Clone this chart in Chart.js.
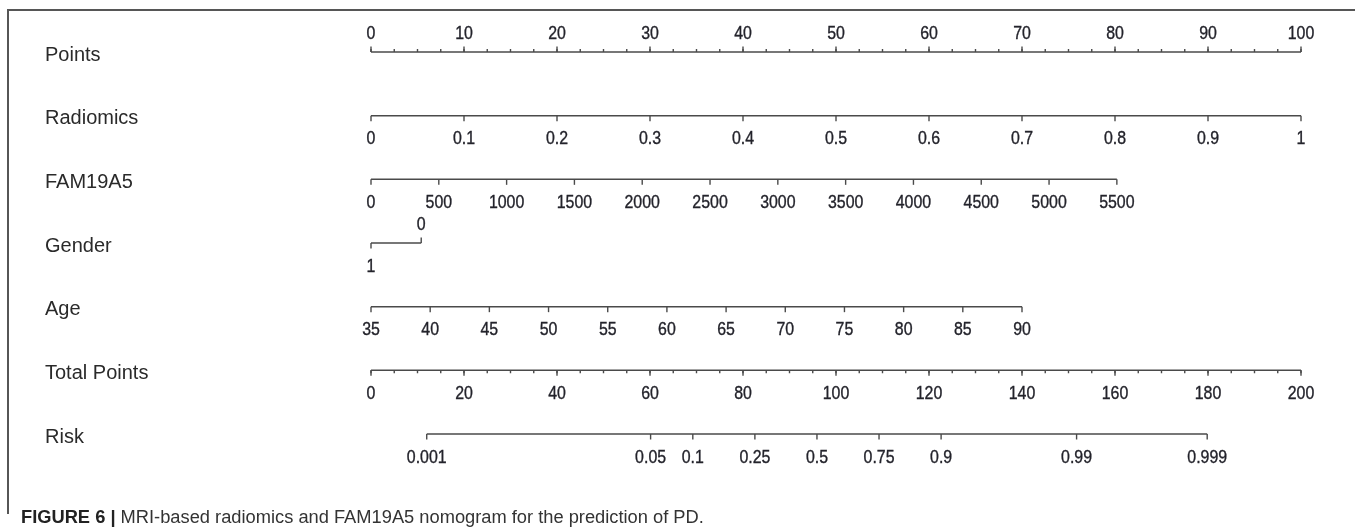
<!DOCTYPE html>
<html>
<head>
<meta charset="utf-8">
<title>Nomogram</title>
<script src="https://cdn.jsdelivr.net/npm/chart.js@4.4.1/dist/chart.umd.min.js"></script>
<style>
  html, body { margin: 0; padding: 0; background: #fff; }
  #wrap { position: relative; width: 1355px; height: 529px; overflow: hidden; }
  #frame {
    position: absolute; left: 7px; top: 9px; width: 1400px; height: 503px;
    border-left: 2px solid #565656; border-top: 2px solid #565656;
  }
  #c { position: absolute; left: 0; top: 0; }
  #caption {
    position: absolute; left: 21px; top: 507px; white-space: nowrap;
    font: 18.3px/20px 'Liberation Sans', Arial, sans-serif; color: #333;
  }
  #caption b { color: #222; }
</style>
</head>
<body>
<div id="wrap">
  <div id="frame"></div>
  <canvas id="c" width="1355" height="529"></canvas>
  <div id="caption"><b>FIGURE 6 |</b> MRI-based radiomics and FAM19A5 nomogram for the prediction of PD.</div>
</div>
<script>
// ---- Nomogram rows ----
const rowNames = ['Points', 'Radiomics', 'FAM19A5', 'Gender', 'Age', 'Total Points', 'Risk'];

// Points scale (0-100), labelled every 10, minor marks every 2.5
const pointsTicks = [0, 10, 20, 30, 40, 50, 60, 70, 80, 90, 100];
const pointsMinorStep = 2.5;

// Radiomics score: 0 -> 1 spans 0 -> 100 points
const radiomicsTicks = [0, 0.1, 0.2, 0.3, 0.4, 0.5, 0.6, 0.7, 0.8, 0.9, 1];
const radiomicsPointsAtMax = 100;

// FAM19A5: 0 -> 5500 spans 0 -> 80.2 points
const fam19a5Ticks = [0, 500, 1000, 1500, 2000, 2500, 3000, 3500, 4000, 4500, 5000, 5500];
const fam19a5PointsAtMax = 80.2;

// Gender levels and their points
const genderLevels = ['1', '0'];
const genderPoints = [0, 5.4];

// Age: 35 -> 90 spans 0 -> 70 points
const ageTicks = [35, 40, 45, 50, 55, 60, 65, 70, 75, 80, 85, 90];
const agePointsAtMax = 70;

// Total points scale (0-200), labelled every 20, minor marks every 5
const totalPointsTicks = [0, 20, 40, 60, 80, 100, 120, 140, 160, 180, 200];
const totalPointsMinorStep = 5;

// Predicted risk: logit(risk) = riskIntercept + riskSlope * totalPoints
const riskTicks = [0.001, 0.05, 0.1, 0.25, 0.5, 0.75, 0.9, 0.99, 0.999];
const riskIntercept = -7.893;
const riskSlope = 0.0823;

// ---- value -> points mappings ----
const last = a => a[a.length - 1];
const logit = p => Math.log(p / (1 - p));
const toPts = {
  points: v => v,
  radiomics: v => (v - radiomicsTicks[0]) / (last(radiomicsTicks) - radiomicsTicks[0]) * radiomicsPointsAtMax,
  fam: v => (v - fam19a5Ticks[0]) / (last(fam19a5Ticks) - fam19a5Ticks[0]) * fam19a5PointsAtMax,
  age: v => (v - ageTicks[0]) / (last(ageTicks) - ageTicks[0]) * agePointsAtMax,
  total: v => v * last(pointsTicks) / last(totalPointsTicks),
  risk: p => ((logit(p) - riskIntercept) / riskSlope) * last(pointsTicks) / last(totalPointsTicks)
};

function minorValues(ticks, step) {
  const out = [];
  for (let v = ticks[0]; v <= last(ticks) + 1e-9; v += step) out.push(v);
  return out;
}

// Each row: where its tick marks sit (in points) and which side they face
const rows = [
  { row: 'Points', ticks: pointsTicks.map(v => ({ at: toPts.points(v), label: String(v), side: -1 })),
    minor: minorValues(pointsTicks, pointsMinorStep).map(toPts.points), minorSide: -1 },
  { row: 'Radiomics', ticks: radiomicsTicks.map(v => ({ at: toPts.radiomics(v), label: String(v), side: 1 })) },
  { row: 'FAM19A5', ticks: fam19a5Ticks.map(v => ({ at: toPts.fam(v), label: String(v), side: 1 })) },
  { row: 'Gender', ticks: genderLevels.map((g, i) => ({ at: genderPoints[i], label: g, side: i === 0 ? 1 : -1 })) },
  { row: 'Age', ticks: ageTicks.map(v => ({ at: toPts.age(v), label: String(v), side: 1 })) },
  { row: 'Total Points', ticks: totalPointsTicks.map(v => ({ at: toPts.total(v), label: String(v), side: 1 })),
    minor: minorValues(totalPointsTicks, totalPointsMinorStep).map(toPts.total), minorSide: 1 },
  { row: 'Risk', ticks: riskTicks.map(p => ({ at: toPts.risk(p), label: String(p), side: 1 })) }
];

const axisColor = '#4a4a4a';
const textColor = '#23232b';

// Axis lines of every row are ordinary line datasets
const datasets = rows.map(r => {
  const xs = r.ticks.map(t => t.at);
  return {
    label: r.row,
    data: [{ x: Math.min(...xs), y: r.row }, { x: Math.max(...xs), y: r.row }],
    borderColor: axisColor,
    borderWidth: 1.5,
    pointRadius: 0,
    fill: false,
    clip: false
  };
});

// Tick marks and tick labels drawn against the chart's own scales
const nomogramTicks = {
  id: 'nomogramTicks',
  afterDatasetsDraw(chart) {
    const { ctx, scales: { x, y } } = chart;
    const majorLen = 5.5, minorLen = 3;
    ctx.save();
    ctx.strokeStyle = axisColor;
    ctx.lineWidth = 1.4;
    ctx.font = "18.5px 'Liberation Sans', Arial, sans-serif";
    ctx.textAlign = 'center';
    ctx.textBaseline = 'middle';
    rows.forEach(r => {
      const py = y.getPixelForValue(rowNames.indexOf(r.row));
      if (r.minor) {
        ctx.beginPath();
        r.minor.forEach(v => {
          const px = x.getPixelForValue(v);
          ctx.moveTo(px, py);
          ctx.lineTo(px, py + r.minorSide * minorLen);
        });
        ctx.stroke();
      }
      r.ticks.forEach(t => {
        const px = x.getPixelForValue(t.at);
        ctx.beginPath();
        ctx.moveTo(px, py);
        ctx.lineTo(px, py + t.side * majorLen);
        ctx.stroke();
        const ly = t.side < 0 ? py - 18.5 : py + 23.5;
        ctx.save();
        ctx.translate(px, ly);
        ctx.scale(0.86, 1);
        ctx.fillStyle = textColor;
        ctx.strokeStyle = textColor;
        ctx.lineWidth = 0.35;
        ctx.fillText(t.label, 0, 0);
        ctx.strokeText(t.label, 0, 0);
        ctx.restore();
      });
    });
    ctx.restore();
  }
};

new Chart(document.getElementById('c'), {
  type: 'line',
  data: { datasets },
  plugins: [nomogramTicks],
  options: {
    responsive: false,
    animation: false,
    devicePixelRatio: 1,
    layout: { padding: { left: 45, right: 54, top: 52, bottom: 95 } },
    plugins: { legend: { display: false }, tooltip: { enabled: false } },
    scales: {
      x: { type: 'linear', min: pointsTicks[0], max: last(pointsTicks), display: false },
      y: {
        type: 'category',
        labels: rowNames,
        offset: false,
        grid: { display: false },
        border: { display: false },
        ticks: {
          crossAlign: 'far',
          padding: 0,
          labelOffset: 3,
          color: '#2a2a2a',
          font: { family: "'Liberation Sans', Arial, sans-serif", size: 20 }
        },
        afterFit(scale) { scale.width = 326; }
      }
    }
  }
});
</script>
</body>
</html>
